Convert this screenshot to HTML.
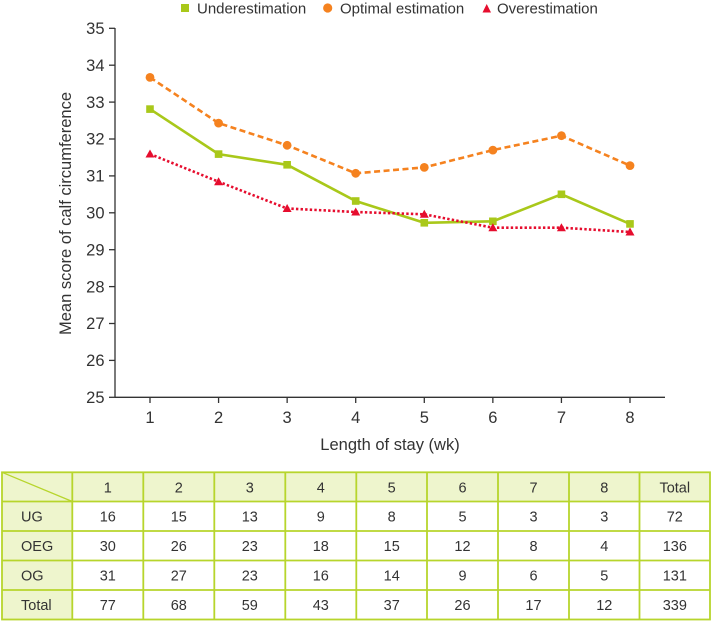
<!DOCTYPE html>
<html>
<head>
<meta charset="utf-8">
<style>
  html,body{margin:0;padding:0;background:#fff;}
  svg{display:block;}
  text{font-family:"Liberation Sans",Arial,sans-serif;fill:#333;}
</style>
</head>
<body>
<svg width="712" height="622" viewBox="0 0 712 622" xmlns="http://www.w3.org/2000/svg">
  <!-- Legend -->
  <rect x="181" y="4" width="8" height="8" fill="#a9c81a"/>
  <text x="197" y="13.5" font-size="15">Underestimation</text>
  <circle cx="327.7" cy="8" r="4.6" fill="#f5821f"/>
  <text x="340" y="13.5" font-size="15">Optimal estimation</text>
  <polygon points="482.5,12.5 491,12.5 486.7,4" fill="#e60d2e"/>
  <text x="497" y="13.5" font-size="15">Overestimation</text>

  <!-- Axes -->
  <g stroke="#333" stroke-width="1.3" fill="none">
    <line x1="115" y1="28" x2="115" y2="397.3"/>
    <line x1="115" y1="397.3" x2="665" y2="397.3"/>
    <!-- y ticks -->
    <line x1="109" y1="397.3" x2="115" y2="397.3"/>
    <line x1="109" y1="360.4" x2="115" y2="360.4"/>
    <line x1="109" y1="323.5" x2="115" y2="323.5"/>
    <line x1="109" y1="286.6" x2="115" y2="286.6"/>
    <line x1="109" y1="249.7" x2="115" y2="249.7"/>
    <line x1="109" y1="212.8" x2="115" y2="212.8"/>
    <line x1="109" y1="175.9" x2="115" y2="175.9"/>
    <line x1="109" y1="139" x2="115" y2="139"/>
    <line x1="109" y1="102.1" x2="115" y2="102.1"/>
    <line x1="109" y1="65.2" x2="115" y2="65.2"/>
    <line x1="109" y1="28.3" x2="115" y2="28.3"/>
    <!-- x ticks -->
    <line x1="150" y1="397.3" x2="150" y2="403"/>
    <line x1="218.57" y1="397.3" x2="218.57" y2="403"/>
    <line x1="287.14" y1="397.3" x2="287.14" y2="403"/>
    <line x1="355.71" y1="397.3" x2="355.71" y2="403"/>
    <line x1="424.29" y1="397.3" x2="424.29" y2="403"/>
    <line x1="492.86" y1="397.3" x2="492.86" y2="403"/>
    <line x1="561.43" y1="397.3" x2="561.43" y2="403"/>
    <line x1="630" y1="397.3" x2="630" y2="403"/>
  </g>

  <!-- y tick labels -->
  <g font-size="16.5" text-anchor="end">
    <text x="104.5" y="403">25</text>
    <text x="104.5" y="366.1">26</text>
    <text x="104.5" y="329.2">27</text>
    <text x="104.5" y="292.3">28</text>
    <text x="104.5" y="255.4">29</text>
    <text x="104.5" y="218.5">30</text>
    <text x="104.5" y="181.6">31</text>
    <text x="104.5" y="144.7">32</text>
    <text x="104.5" y="107.8">33</text>
    <text x="104.5" y="70.9">34</text>
    <text x="104.5" y="34">35</text>
  </g>
  <!-- x tick labels -->
  <g font-size="16.5" text-anchor="middle">
    <text x="150" y="423">1</text>
    <text x="218.57" y="423">2</text>
    <text x="287.14" y="423">3</text>
    <text x="355.71" y="423">4</text>
    <text x="424.29" y="423">5</text>
    <text x="492.86" y="423">6</text>
    <text x="561.43" y="423">7</text>
    <text x="630" y="423">8</text>
  </g>

  <!-- axis titles -->
  <text x="390" y="450" font-size="16.5" text-anchor="middle">Length of stay (wk)</text>
  <text transform="translate(71,213.5) rotate(-90)" font-size="16.5" text-anchor="middle">Mean score of calf circumference</text>

  <!-- Series: Optimal (orange dashed) -->
  <polyline fill="none" stroke="#f5821f" stroke-width="2.6" stroke-dasharray="6,3.5"
    points="150,77.4 218.57,123.1 287.14,145.3 355.71,173.3 424.29,167.4 492.86,150.1 561.43,135.7 630,165.6"/>
  <g fill="#f5821f">
    <circle cx="150" cy="77.4" r="4.4"/>
    <circle cx="218.57" cy="123.1" r="4.4"/>
    <circle cx="287.14" cy="145.3" r="4.4"/>
    <circle cx="355.71" cy="173.3" r="4.4"/>
    <circle cx="424.29" cy="167.4" r="4.4"/>
    <circle cx="492.86" cy="150.1" r="4.4"/>
    <circle cx="561.43" cy="135.7" r="4.4"/>
    <circle cx="630" cy="165.6" r="4.4"/>
  </g>

  <!-- Series: Underestimation (green solid) -->
  <polyline fill="none" stroke="#a9c81a" stroke-width="2.6"
    points="150,109.1 218.57,154.1 287.14,164.8 355.71,201 424.29,222.8 492.86,221.3 561.43,194.3 630,223.9"/>
  <g fill="#a9c81a">
    <rect x="146.2" y="105.3" width="7.6" height="7.6"/>
    <rect x="214.77" y="150.3" width="7.6" height="7.6"/>
    <rect x="283.34" y="161" width="7.6" height="7.6"/>
    <rect x="351.91" y="197.2" width="7.6" height="7.6"/>
    <rect x="420.49" y="219" width="7.6" height="7.6"/>
    <rect x="489.06" y="217.5" width="7.6" height="7.6"/>
    <rect x="557.63" y="190.5" width="7.6" height="7.6"/>
    <rect x="626.2" y="220.1" width="7.6" height="7.6"/>
  </g>

  <!-- Series: Overestimation (red dotted) -->
  <polyline fill="none" stroke="#e60d2e" stroke-width="2.6" stroke-dasharray="2.4,2.2"
    points="150,154 218.57,181.7 287.14,208.5 355.71,212 424.29,214.3 492.86,227.7 561.43,227.7 630,232"/>
  <g fill="#e60d2e">
    <polygon points="145.5,157.5 154.5,157.5 150,149.5"/>
    <polygon points="214.07,185.2 223.07,185.2 218.57,177.2"/>
    <polygon points="282.64,212 291.64,212 287.14,204"/>
    <polygon points="351.21,215.5 360.21,215.5 355.71,207.5"/>
    <polygon points="419.79,217.8 428.79,217.8 424.29,209.8"/>
    <polygon points="488.36,231.2 497.36,231.2 492.86,223.2"/>
    <polygon points="556.93,231.2 565.93,231.2 561.43,223.2"/>
    <polygon points="625.5,235.5 634.5,235.5 630,227.5"/>
  </g>

  <!-- Table -->
  <g>
    <rect x="2" y="472.3" width="708" height="29.2" fill="#eef5cd"/>
    <rect x="2" y="472.3" width="70.3" height="147.2" fill="#eef5cd"/>
    <g stroke="#b7d52c" stroke-width="1.8" fill="none">
      <rect x="2" y="472.3" width="708" height="147.2"/>
      <line x1="2" y1="501.5" x2="710" y2="501.5"/>
      <line x1="2" y1="531" x2="710" y2="531"/>
      <line x1="2" y1="560.5" x2="710" y2="560.5"/>
      <line x1="2" y1="590" x2="710" y2="590"/>
      <line x1="72.3" y1="472.3" x2="72.3" y2="619.5"/>
      <line x1="143.3" y1="472.3" x2="143.3" y2="619.5"/>
      <line x1="214.3" y1="472.3" x2="214.3" y2="619.5"/>
      <line x1="285.3" y1="472.3" x2="285.3" y2="619.5"/>
      <line x1="356.3" y1="472.3" x2="356.3" y2="619.5"/>
      <line x1="427" y1="472.3" x2="427" y2="619.5"/>
      <line x1="498" y1="472.3" x2="498" y2="619.5"/>
      <line x1="569" y1="472.3" x2="569" y2="619.5"/>
      <line x1="639.5" y1="472.3" x2="639.5" y2="619.5"/>
      <line x1="2" y1="472.3" x2="72.3" y2="501.5" stroke-width="1.3"/>
    </g>
    <g font-size="14.5" text-anchor="middle">
      <!-- header -->
      <text x="107.8" y="492.3">1</text>
      <text x="178.8" y="492.3">2</text>
      <text x="249.8" y="492.3">3</text>
      <text x="320.8" y="492.3">4</text>
      <text x="391.7" y="492.3">5</text>
      <text x="462.5" y="492.3">6</text>
      <text x="533.5" y="492.3">7</text>
      <text x="604.3" y="492.3">8</text>
      <text x="674.8" y="492.3">Total</text>
      <!-- UG -->
      <text x="107.8" y="521.5">16</text>
      <text x="178.8" y="521.5">15</text>
      <text x="249.8" y="521.5">13</text>
      <text x="320.8" y="521.5">9</text>
      <text x="391.7" y="521.5">8</text>
      <text x="462.5" y="521.5">5</text>
      <text x="533.5" y="521.5">3</text>
      <text x="604.3" y="521.5">3</text>
      <text x="674.8" y="521.5">72</text>
      <!-- OEG -->
      <text x="107.8" y="551">30</text>
      <text x="178.8" y="551">26</text>
      <text x="249.8" y="551">23</text>
      <text x="320.8" y="551">18</text>
      <text x="391.7" y="551">15</text>
      <text x="462.5" y="551">12</text>
      <text x="533.5" y="551">8</text>
      <text x="604.3" y="551">4</text>
      <text x="674.8" y="551">136</text>
      <!-- OG -->
      <text x="107.8" y="580.5">31</text>
      <text x="178.8" y="580.5">27</text>
      <text x="249.8" y="580.5">23</text>
      <text x="320.8" y="580.5">16</text>
      <text x="391.7" y="580.5">14</text>
      <text x="462.5" y="580.5">9</text>
      <text x="533.5" y="580.5">6</text>
      <text x="604.3" y="580.5">5</text>
      <text x="674.8" y="580.5">131</text>
      <!-- Total -->
      <text x="107.8" y="610">77</text>
      <text x="178.8" y="610">68</text>
      <text x="249.8" y="610">59</text>
      <text x="320.8" y="610">43</text>
      <text x="391.7" y="610">37</text>
      <text x="462.5" y="610">26</text>
      <text x="533.5" y="610">17</text>
      <text x="604.3" y="610">12</text>
      <text x="674.8" y="610">339</text>
    </g>
    <g font-size="14.5">
      <text x="21" y="521.5">UG</text>
      <text x="21" y="551">OEG</text>
      <text x="21" y="580.5">OG</text>
      <text x="21" y="610">Total</text>
    </g>
  </g>
</svg>
</body>
</html>
